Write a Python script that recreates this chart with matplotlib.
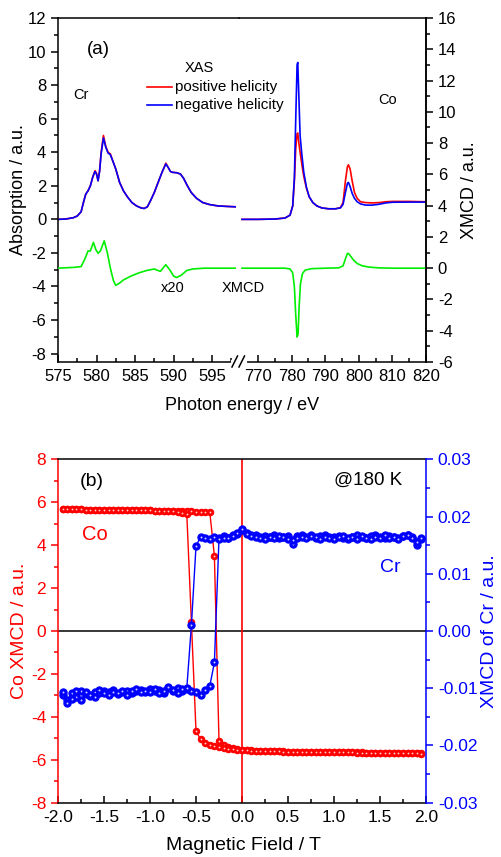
import matplotlib.pyplot as plt
from matplotlib.lines import Line2D
from matplotlib.ticker import MultipleLocator, FixedLocator, FormatStrFormatter

plt.rcParams['font.family'] = ['Liberation Sans', 'DejaVu Sans']
plt.rcParams['axes.unicode_minus'] = False

# ---------- (a) XAS / XMCD spectra ----------
cr_energy = [575, 576, 577, 577.5, 578, 578.3, 578.6, 578.9, 579.2, 579.5,
             579.8, 580.0, 580.2, 580.4, 580.6, 580.9, 581.2, 581.5, 581.8, 582.1,
             582.5, 583.0, 583.5, 584.0, 584.6, 585.2, 585.8, 586.2, 586.6, 587.0,
             587.5, 588.0, 588.5, 589.0, 589.3, 589.6, 589.9, 590.4, 590.9, 591.3,
             591.8, 592.3, 593.0, 593.8, 594.7, 595.8, 597.0, 598.0]
cr_pos = [0.0, 0.02, 0.1, 0.2, 0.45, 1.0, 1.5, 1.7, 2.0, 2.5,
          2.9, 2.75, 2.3, 2.9, 4.0, 5.0, 4.35, 4.0, 3.9, 3.5,
          3.0, 2.2, 1.7, 1.35, 1.0, 0.8, 0.68, 0.65, 0.75, 1.1,
          1.6, 2.2, 2.8, 3.35, 3.1, 2.85, 2.8, 2.78, 2.7, 2.45,
          2.0, 1.6, 1.25, 1.0, 0.88, 0.8, 0.77, 0.75]
cr_neg = [0.0, 0.02, 0.1, 0.2, 0.45, 1.0, 1.5, 1.7, 2.0, 2.5,
          2.85, 2.7, 2.3, 2.85, 3.9, 4.85, 4.3, 3.95, 3.85, 3.5,
          3.0, 2.2, 1.7, 1.35, 1.0, 0.8, 0.68, 0.65, 0.75, 1.1,
          1.6, 2.2, 2.8, 3.3, 3.1, 2.85, 2.8, 2.78, 2.7, 2.45,
          2.0, 1.6, 1.25, 1.0, 0.88, 0.8, 0.77, 0.75]

cr_xmcd_energy = [575, 577, 578, 578.5, 578.9, 579.2, 579.6, 579.9, 580.2, 580.5,
                  581.0, 581.4, 581.8, 582.2, 582.5, 583.0, 583.5, 584.5, 585.5, 586.5,
                  587.5, 588.0, 588.3, 588.7, 589.0, 589.5, 590.0, 590.4, 591.0, 591.7,
                  592.5, 594, 596, 598]
cr_xmcd = [0.0, 0.05, 0.1, 0.6, 1.1, 1.1, 1.65, 1.2, 0.95, 1.1,
           1.75, 1.0, 0.0, -0.8, -1.1, -0.95, -0.75, -0.5, -0.3, -0.15,
           -0.05, -0.15, -0.2, 0.05, 0.22, -0.1, -0.5, -0.6, -0.45, -0.15,
           -0.05, 0.0, 0.0, 0.0]

co_energy = [765.2, 770, 775, 778, 779.5, 780.3, 780.8, 781.2, 781.6, 781.8,
             782.1, 782.5, 783.0, 783.6, 784.4, 785.2, 786.3, 787.5, 789, 791,
             793, 794.5, 795.3, 796.0, 796.6, 796.9, 797.4, 798.0, 798.7, 799.5,
             800.5, 802, 804, 806, 808, 810, 815, 820]
co_pos = [0.0, 0.0, 0.02, 0.08, 0.25, 0.8, 2.3, 4.2, 5.1, 5.15,
          4.6, 4.0, 3.3, 2.55, 1.85, 1.35, 1.0, 0.8, 0.68, 0.63,
          0.63, 0.7, 1.0, 2.3, 3.15, 3.25, 3.0, 2.3, 1.6, 1.25,
          1.05, 1.0, 0.98, 1.0, 1.05, 1.07, 1.07, 1.05]
co_neg = [0.0, 0.0, 0.02, 0.08, 0.25, 0.8, 2.5, 6.0, 9.2, 9.35,
          7.5, 5.0, 3.9, 2.8, 1.9, 1.35, 1.0, 0.8, 0.68, 0.63,
          0.63, 0.68, 0.9, 1.6, 2.15, 2.2, 1.95, 1.55, 1.25, 1.05,
          0.92, 0.85, 0.85, 0.9, 0.98, 1.02, 1.03, 1.03]

co_xmcd_energy = [765.2, 778, 779.5, 780.3, 780.8, 781.2, 781.6, 781.9, 782.2, 782.6,
                  783.2, 784, 786, 790, 794, 795.3, 796.0, 796.6, 797.0, 797.6,
                  798.5, 799.5, 801, 803, 806, 810, 820]
co_xmcd = [0.0, 0.0, -0.05, -0.3, -1.2, -3.0, -4.4, -4.2, -2.5, -1.0,
           -0.35, -0.12, -0.03, 0.0, 0.02, 0.15, 0.6, 0.95, 0.92, 0.75,
           0.5, 0.3, 0.15, 0.07, 0.02, 0.0, 0.0]

# ---------- (b) hysteresis loops ----------
field = [-1.95, -1.90, -1.85, -1.80, -1.75, -1.70, -1.65, -1.60, -1.55, -1.50,
         -1.45, -1.40, -1.35, -1.30, -1.25, -1.20, -1.15, -1.10, -1.05, -1.00,
         -0.95, -0.90, -0.85, -0.80, -0.75, -0.70, -0.65, -0.60, -0.55, -0.50,
         -0.45, -0.40, -0.35, -0.30, -0.25, -0.20, -0.15, -0.10, -0.05, 0.00,
         0.05, 0.10, 0.15, 0.20, 0.25, 0.30, 0.35, 0.40, 0.45, 0.50,
         0.55, 0.60, 0.65, 0.70, 0.75, 0.80, 0.85, 0.90, 0.95, 1.00,
         1.05, 1.10, 1.15, 1.20, 1.25, 1.30, 1.35, 1.40, 1.45, 1.50,
         1.55, 1.60, 1.65, 1.70, 1.75, 1.80, 1.85, 1.90, 1.95]

co_up = [5.68, 5.68, 5.67, 5.67, 5.67, 5.66, 5.66, 5.66, 5.65, 5.65,
         5.65, 5.64, 5.64, 5.64, 5.63, 5.63, 5.63, 5.62, 5.62, 5.62,
         5.61, 5.61, 5.60, 5.60, 5.60, 5.59, 5.58, 5.58, 5.57, 5.56,
         5.55, 5.54, 5.53, 3.50, -5.13, -5.30, -5.40, -5.46, -5.50, -5.53,
         -5.55, -5.56, -5.57, -5.58, -5.59, -5.60, -5.60, -5.61, -5.61, -5.62,
         -5.62, -5.62, -5.63, -5.63, -5.63, -5.64, -5.64, -5.64, -5.65, -5.65,
         -5.65, -5.65, -5.66, -5.66, -5.66, -5.66, -5.67, -5.67, -5.67, -5.67,
         -5.68, -5.68, -5.68, -5.68, -5.69, -5.69, -5.69, -5.70, -5.70]
co_down = [5.68, 5.68, 5.67, 5.67, 5.67, 5.66, 5.66, 5.66, 5.65, 5.65,
           5.65, 5.64, 5.64, 5.64, 5.63, 5.63, 5.63, 5.62, 5.62, 5.62,
           5.61, 5.60, 5.59, 5.58, 5.57, 5.55, 5.52, 5.45, 0.43, -4.66,
           -5.05, -5.20, -5.30, -5.37, -5.42, -5.46, -5.49, -5.51, -5.53, -5.55,
           -5.56, -5.57, -5.58, -5.59, -5.59, -5.60, -5.61, -5.61, -5.62, -5.62,
           -5.62, -5.63, -5.63, -5.63, -5.64, -5.64, -5.64, -5.65, -5.65, -5.65,
           -5.66, -5.66, -5.66, -5.66, -5.67, -5.67, -5.67, -5.67, -5.68, -5.68,
           -5.68, -5.68, -5.69, -5.69, -5.69, -5.70, -5.70, -5.70, -5.71]

cr_up = [-0.0112, -0.0121, -0.0108, -0.0115, -0.0104, -0.0110, -0.0113, -0.0106, -0.0109, -0.0104,
         -0.0107, -0.0103, -0.0110, -0.0106, -0.0104, -0.0108, -0.0105, -0.0103, -0.0106, -0.0102,
         -0.0105, -0.0103, -0.0108, -0.0100, -0.0104, -0.0099, -0.0104, -0.0102, -0.0105, -0.0107,
         -0.0111, -0.0103, -0.0096, -0.0055, 0.0162, 0.0166, 0.0163, 0.0168, 0.0170, 0.0176,
         0.0172, 0.0168, 0.0167, 0.0165, 0.0166, 0.0164, 0.0167, 0.0163, 0.0165, 0.0166,
         0.0152, 0.0166, 0.0168, 0.0165, 0.0167, 0.0163, 0.0166, 0.0168, 0.0165, 0.0164,
         0.0166, 0.0163, 0.0160, 0.0165, 0.0167, 0.0164, 0.0162, 0.0166, 0.0168, 0.0165,
         0.0163, 0.0166, 0.0164, 0.0162, 0.0166, 0.0167, 0.0165, 0.0150, 0.0160]
cr_down = [-0.0106, -0.0126, -0.0118, -0.0104, -0.0121, -0.0107, -0.0111, -0.0115, -0.0103, -0.0108,
           -0.0112, -0.0106, -0.0109, -0.0104, -0.0111, -0.0105, -0.0102, -0.0107, -0.0104, -0.0106,
           -0.0101, -0.0109, -0.0104, -0.0098, -0.0103, -0.0109, -0.0102, -0.0100, 0.0010, 0.0148,
           0.0165, 0.0163, 0.0160, 0.0164, 0.0161, 0.0163, 0.0162, 0.0166, 0.0172, 0.0178,
           0.0170, 0.0166, 0.0164, 0.0163, 0.0161, 0.0165, 0.0162, 0.0166, 0.0164, 0.0160,
           0.0159, 0.0163, 0.0165, 0.0162, 0.0166, 0.0164, 0.0161, 0.0165, 0.0163, 0.0161,
           0.0164, 0.0166, 0.0162, 0.0165, 0.0161, 0.0166, 0.0163, 0.0160, 0.0164, 0.0162,
           0.0167, 0.0163, 0.0165, 0.0161, 0.0166, 0.0168, 0.0162, 0.0155, 0.0163]

W, H = 501, 857
RED, BLUE, GREEN = '#ff0000', '#0000ff', '#00ee00'


def fx(px):
    return px / W


def fy(py):
    return 1 - py / H


fig = plt.figure(figsize=(W / 100, H / 100), dpi=100)

# ---------------- panel (a): broken x axis ----------------
top, bot = 18, 362
axL = fig.add_axes([fx(58), fy(bot), (239 - 58) / W, (bot - top) / H])
axR = fig.add_axes([fx(239), fy(bot), (426 - 239) / W, (bot - top) / H])
axR.patch.set_visible(False)
axL2 = axL.twinx()
axR2 = axR.twinx()

axL.plot(cr_energy, cr_pos, color=RED, lw=1.2)
axL.plot(cr_energy, cr_neg, color=BLUE, lw=1.2)
axL2.plot(cr_xmcd_energy, cr_xmcd, color=GREEN, lw=1.2)
axR.plot(co_energy, co_pos, color=RED, lw=1.2)
axR.plot(co_energy, co_neg, color=BLUE, lw=1.2)
axR2.plot(co_xmcd_energy, co_xmcd, color=GREEN, lw=1.2)

for a in (axL, axR):
    a.set_ylim(-8.5, 12)
for a in (axL2, axR2):
    a.set_ylim(-6, 16)
axL.set_xlim(575, 598.5)
axR.set_xlim(764.3, 820)

axL.spines['right'].set_visible(False)
axR.spines['left'].set_visible(False)
axL2.axis('off')
for s in ('left', 'top', 'bottom'):
    axR2.spines[s].set_visible(False)
for a in (axL, axR, axR2):
    for s in a.spines.values():
        s.set_linewidth(1.1)

axL.xaxis.set_major_locator(MultipleLocator(5))
axL.xaxis.set_minor_locator(MultipleLocator(2.5))
axR.xaxis.set_major_locator(MultipleLocator(10))
axR.xaxis.set_minor_locator(FixedLocator([775, 785, 795, 805, 815]))
axL.yaxis.set_major_locator(MultipleLocator(2))
axL.yaxis.set_minor_locator(MultipleLocator(1))
axR2.yaxis.set_major_locator(MultipleLocator(2))
axR2.yaxis.set_minor_locator(MultipleLocator(1))
axR.tick_params(axis='y', which='both', left=False, labelleft=False)

for a in (axL, axR):
    a.tick_params(axis='x', which='major', direction='in', length=5, width=1.1, labelsize=12, pad=5)
    a.tick_params(axis='x', which='minor', direction='in', length=3, width=1.1)
axL.tick_params(axis='y', which='major', direction='out', length=5, width=1.1, labelsize=12)
axL.tick_params(axis='y', which='minor', direction='out', length=3, width=1.1)
axR2.tick_params(axis='y', which='major', direction='out', length=5, width=1.1, labelsize=12)
axR2.tick_params(axis='y', which='minor', direction='out', length=3, width=1.1)

# axis break marks
fig.add_artist(Line2D([fx(233), fx(245)], [fy(bot), fy(bot)], color='white', lw=3))
fig.add_artist(Line2D([fx(232), fx(237.5)], [fy(367), fy(356)], color='k', lw=1.1))
fig.add_artist(Line2D([fx(239), fx(244.5)], [fy(367), fy(356)], color='k', lw=1.1))

fig.text(fx(19), fy(190), 'Absorption / a.u.', rotation=90, ha='center', va='center', fontsize=13)
fig.text(fx(470), fy(190), 'XMCD / a.u.', rotation=90, ha='center', va='center', fontsize=13)
fig.text(fx(242), fy(406), 'Photon energy / eV', ha='center', va='center', fontsize=13)

fig.text(fx(98), fy(50), '(a)', ha='center', va='center', fontsize=13.5)
fig.text(fx(81), fy(95), 'Cr', ha='center', va='center', fontsize=10.5)
fig.text(fx(388), fy(100), 'Co', ha='center', va='center', fontsize=10.5)
fig.text(fx(199), fy(68), 'XAS', ha='center', va='center', fontsize=10.5)
fig.text(fx(173), fy(288), 'x20', ha='center', va='center', fontsize=10.5)
fig.text(fx(243), fy(288), 'XMCD', ha='center', va='center', fontsize=10.5)
fig.add_artist(Line2D([fx(147), fx(172)], [fy(87), fy(87)], color=RED, lw=1.2))
fig.add_artist(Line2D([fx(147), fx(172)], [fy(105), fy(105)], color=BLUE, lw=1.2))
fig.text(fx(175), fy(87), 'positive helicity', ha='left', va='center', fontsize=11)
fig.text(fx(175), fy(105), 'negative helicity', ha='left', va='center', fontsize=11)

# ---------------- panel (b): hysteresis ----------------
btop, bbot = 459.3, 802.7
ax = fig.add_axes([fx(58), fy(bbot), (426 - 58) / W, (bbot - btop) / H])
ax2 = ax.twinx()

ax.axhline(0, color='k', lw=1.1)
ax.axvline(0, color=RED, lw=1.2)
for vals in (co_up, co_down):
    ax.plot(field, vals, '-o', color=RED, lw=1, ms=4.6, mfc=RED, mec=RED, mew=0.8)
    ax.plot(field, vals, 'o', ms=1.3, mfc='#ffd0d0', mec='none')
for vals in (cr_up, cr_down):
    ax2.plot(field, vals, '-o', color=BLUE, lw=1, ms=5.2, mfc=BLUE, mec=BLUE, mew=0.8)
    ax2.plot(field, vals, 'o', ms=1.4, mfc='#d0d0ff', mec='none')

ax.set_xlim(-2, 2)
ax.set_ylim(-8, 8)
ax2.set_ylim(-0.03, 0.03)
ax.xaxis.set_major_locator(MultipleLocator(0.5))
ax.xaxis.set_minor_locator(MultipleLocator(0.25))
ax.xaxis.set_major_formatter(FormatStrFormatter('%.1f'))
ax.yaxis.set_major_locator(MultipleLocator(2))
ax.yaxis.set_minor_locator(MultipleLocator(1))
ax2.yaxis.set_major_locator(MultipleLocator(0.01))
ax2.yaxis.set_minor_locator(MultipleLocator(0.005))
ax2.yaxis.set_major_formatter(FormatStrFormatter('%.2f'))

for s in ax.spines.values():
    s.set_linewidth(1.1)
ax.spines['left'].set_color(RED)
ax.spines['right'].set_visible(False)
for s in ('left', 'top', 'bottom'):
    ax2.spines[s].set_visible(False)
ax2.spines['right'].set_color(BLUE)
ax2.spines['right'].set_linewidth(1.1)

ax.tick_params(axis='x', which='major', direction='in', length=5, width=1.1, labelsize=12.5, pad=5)
ax.tick_params(axis='x', which='minor', direction='in', length=3, width=1.1)
ax.tick_params(axis='y', which='major', direction='out', length=5, width=1.1, labelsize=12.5, colors=RED)
ax.tick_params(axis='y', which='minor', direction='out', length=3, width=1.1, colors=RED)
ax2.tick_params(axis='y', which='major', direction='out', length=5, width=1.1, labelsize=12.5, colors=BLUE)
ax2.tick_params(axis='y', which='minor', direction='out', length=3, width=1.1, colors=BLUE)

fig.text(fx(20), fy(631), 'Co XMCD / a.u.', rotation=90, ha='center', va='center', fontsize=14, color=RED)
fig.text(fx(490), fy(631), 'XMCD of Cr / a.u.', rotation=90, ha='center', va='center', fontsize=14, color=BLUE)
fig.text(fx(243), fy(845), 'Magnetic Field / T', ha='center', va='center', fontsize=14)

fig.text(fx(92), fy(481), '(b)', ha='center', va='center', fontsize=14)
fig.text(fx(95), fy(535), 'Co', ha='center', va='center', fontsize=14.5, color=RED)
fig.text(fx(368), fy(480), '@180 K', ha='center', va='center', fontsize=13.5)
fig.text(fx(390), fy(567), 'Cr', ha='center', va='center', fontsize=14, color=BLUE)

fig.savefig('out.png', dpi=100)
